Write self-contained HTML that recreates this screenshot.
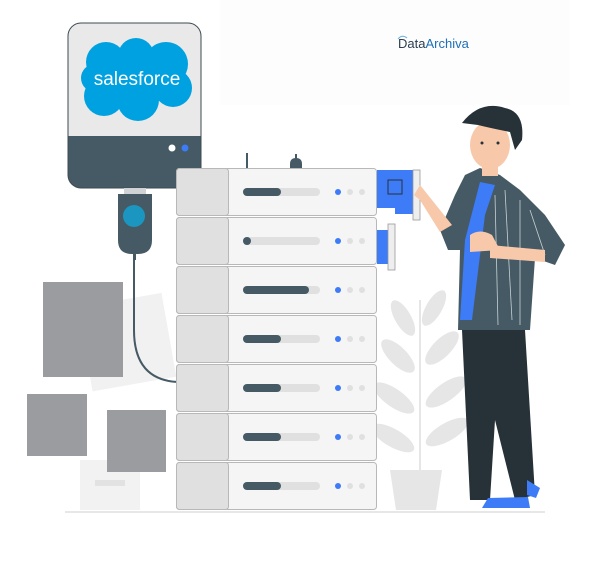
<!DOCTYPE html>
<html><head><meta charset="utf-8"><style>
html,body{margin:0;padding:0;background:#fff;width:610px;height:579px;overflow:hidden}
svg{display:block}
</style></head><body>
<svg width="610" height="579" viewBox="0 0 610 579" xmlns="http://www.w3.org/2000/svg">
<rect x="220" y="0" width="350" height="105" fill="#fdfdfd"/>
<!-- faint background boxes -->
<rect x="85" y="300" width="85" height="85" fill="#f1f1f1" transform="rotate(-10 125 345)"/>
<rect x="80" y="460" width="60" height="50" fill="#f2f2f2"/>
<rect x="95" y="480" width="30" height="6" fill="#e2e2e2"/>
<!-- gray rectangles -->
<rect x="43" y="282" width="80" height="95" fill="#9a9ca0"/>
<rect x="27" y="394" width="60" height="62" fill="#9a9ca0"/>
<rect x="107" y="410" width="59" height="62" fill="#9a9ca0"/>
<!-- plant -->
<g fill="#e6e6e6">
<rect x="419" y="300" width="2" height="170"/>
<ellipse cx="403" cy="318" rx="8" ry="20" transform="rotate(-30 403 318)"/>
<ellipse cx="434" cy="308" rx="8" ry="20" transform="rotate(30 434 308)"/>
<ellipse cx="398" cy="356" rx="9" ry="22" transform="rotate(-45 398 356)"/>
<ellipse cx="442" cy="348" rx="9" ry="22" transform="rotate(45 442 348)"/>
<ellipse cx="394" cy="398" rx="9" ry="24" transform="rotate(-55 394 398)"/>
<ellipse cx="446" cy="392" rx="9" ry="24" transform="rotate(55 446 392)"/>
<ellipse cx="393" cy="438" rx="9" ry="24" transform="rotate(-60 393 438)"/>
<ellipse cx="447" cy="432" rx="9" ry="24" transform="rotate(60 447 432)"/>
<path d="M390 470 L442 470 L436 510 L396 510 Z"/>
</g>
<!-- ground line -->
<line x1="65" y1="512" x2="545" y2="512" stroke="#cfcfcf" stroke-width="1"/>
<!-- cable -->
<path d="M134 255 L134 330 Q134 380 178 382" fill="none" stroke="#455a64" stroke-width="2"/>
<!-- salesforce box -->
<rect x="68" y="23" width="133" height="165" rx="13" fill="#455a64"/>
<path d="M81 23 H188 Q201 23 201 36 V136 H68 V36 Q68 23 81 23 Z" fill="#e9e9e9"/>
<rect x="68" y="23" width="133" height="165" rx="13" fill="none" stroke="#3c4a52" stroke-width="1"/>
<g fill="#00a1e0">
<circle cx="106" cy="62" r="20"/><circle cx="136" cy="56" r="18"/><circle cx="166" cy="64" r="22"/>
<circle cx="173" cy="88" r="19"/><circle cx="138" cy="100" r="21"/><circle cx="104" cy="96" r="20"/>
<circle cx="95" cy="78" r="14"/>
<rect x="95" y="60" width="80" height="40"/>
</g>
<text x="137" y="85" text-anchor="middle" font-family="Liberation Sans, sans-serif" font-size="19" fill="#fff">salesforce</text>
<circle cx="172" cy="148" r="3.5" fill="#fff"/><circle cx="185" cy="148" r="3.5" fill="#3d7bf7"/>
<!-- plug -->
<rect x="124" y="188" width="22" height="6" fill="#cfd3d5"/>
<path d="M118 194 H152 V240 Q152 254 138 254 H132 Q118 254 118 240 Z" fill="#455a64"/>
<circle cx="134" cy="216" r="11" fill="#1a96c0"/>
<rect x="133" y="254" width="3" height="6" fill="#455a64"/>
<!-- antenna/knob -->
<rect x="246" y="153" width="2" height="16" fill="#455a64"/>
<rect x="295" y="154" width="2" height="6" fill="#455a64"/>
<path d="M290 168 V164 Q290 158 296 158 Q302 158 302 164 V168 Z" fill="#455a64"/>
<!-- cards -->
<rect x="377" y="170" width="38" height="38" fill="#3d7bf7"/>
<path d="M395 208 H415 V214 H395 Z" fill="#3d7bf7"/>
<rect x="388" y="180" width="14" height="14" fill="none" stroke="#263238" stroke-width="1"/>
<rect x="413" y="170" width="7" height="50" fill="#eee" stroke="#999" stroke-width="0.8"/>
<rect x="377" y="230" width="15" height="34" fill="#3d7bf7"/>
<rect x="388" y="224" width="7" height="46" fill="#eee" stroke="#999" stroke-width="0.8"/>
<!-- servers -->
<g>
<g transform="translate(0,0)">
<rect x="176.5" y="168.5" width="200" height="47" rx="3" fill="#f5f5f5" stroke="#b8b8b8"/>
<rect x="176.5" y="168.5" width="52" height="47" rx="3" fill="#e0e0e0" stroke="#b8b8b8"/>
<rect x="243" y="188" width="77" height="8" rx="4" fill="#e0e0e0"/><rect x="243" y="188" width="38" height="8" rx="4" fill="#455a64"/>
<circle cx="338" cy="192" r="3" fill="#3d7bf7"/><circle cx="350" cy="192" r="3" fill="#e0e0e0"/><circle cx="362" cy="192" r="3" fill="#e0e0e0"/>
</g>
<g transform="translate(0,49)">
<rect x="176.5" y="168.5" width="200" height="47" rx="3" fill="#f5f5f5" stroke="#b8b8b8"/>
<rect x="176.5" y="168.5" width="52" height="47" rx="3" fill="#e0e0e0" stroke="#b8b8b8"/>
<rect x="243" y="188" width="77" height="8" rx="4" fill="#e0e0e0"/><circle cx="247" cy="192" r="4" fill="#455a64"/>
<circle cx="338" cy="192" r="3" fill="#3d7bf7"/><circle cx="350" cy="192" r="3" fill="#e0e0e0"/><circle cx="362" cy="192" r="3" fill="#e0e0e0"/>
</g>
<g transform="translate(0,98)">
<rect x="176.5" y="168.5" width="200" height="47" rx="3" fill="#f5f5f5" stroke="#b8b8b8"/>
<rect x="176.5" y="168.5" width="52" height="47" rx="3" fill="#e0e0e0" stroke="#b8b8b8"/>
<rect x="243" y="188" width="77" height="8" rx="4" fill="#e0e0e0"/><rect x="243" y="188" width="66" height="8" rx="4" fill="#455a64"/>
<circle cx="338" cy="192" r="3" fill="#3d7bf7"/><circle cx="350" cy="192" r="3" fill="#e0e0e0"/><circle cx="362" cy="192" r="3" fill="#e0e0e0"/>
</g>
<g transform="translate(0,147)">
<rect x="176.5" y="168.5" width="200" height="47" rx="3" fill="#f5f5f5" stroke="#b8b8b8"/>
<rect x="176.5" y="168.5" width="52" height="47" rx="3" fill="#e0e0e0" stroke="#b8b8b8"/>
<rect x="243" y="188" width="77" height="8" rx="4" fill="#e0e0e0"/><rect x="243" y="188" width="38" height="8" rx="4" fill="#455a64"/>
<circle cx="338" cy="192" r="3" fill="#3d7bf7"/><circle cx="350" cy="192" r="3" fill="#e0e0e0"/><circle cx="362" cy="192" r="3" fill="#e0e0e0"/>
</g>
<g transform="translate(0,196)">
<rect x="176.5" y="168.5" width="200" height="47" rx="3" fill="#f5f5f5" stroke="#b8b8b8"/>
<rect x="176.5" y="168.5" width="52" height="47" rx="3" fill="#e0e0e0" stroke="#b8b8b8"/>
<rect x="243" y="188" width="77" height="8" rx="4" fill="#e0e0e0"/><rect x="243" y="188" width="38" height="8" rx="4" fill="#455a64"/>
<circle cx="338" cy="192" r="3" fill="#3d7bf7"/><circle cx="350" cy="192" r="3" fill="#e0e0e0"/><circle cx="362" cy="192" r="3" fill="#e0e0e0"/>
</g>
<g transform="translate(0,245)">
<rect x="176.5" y="168.5" width="200" height="47" rx="3" fill="#f5f5f5" stroke="#b8b8b8"/>
<rect x="176.5" y="168.5" width="52" height="47" rx="3" fill="#e0e0e0" stroke="#b8b8b8"/>
<rect x="243" y="188" width="77" height="8" rx="4" fill="#e0e0e0"/><rect x="243" y="188" width="38" height="8" rx="4" fill="#455a64"/>
<circle cx="338" cy="192" r="3" fill="#3d7bf7"/><circle cx="350" cy="192" r="3" fill="#e0e0e0"/><circle cx="362" cy="192" r="3" fill="#e0e0e0"/>
</g>
<g transform="translate(0,294)">
<rect x="176.5" y="168.5" width="200" height="47" rx="3" fill="#f5f5f5" stroke="#b8b8b8"/>
<rect x="176.5" y="168.5" width="52" height="47" rx="3" fill="#e0e0e0" stroke="#b8b8b8"/>
<rect x="243" y="188" width="77" height="8" rx="4" fill="#e0e0e0"/><rect x="243" y="188" width="38" height="8" rx="4" fill="#455a64"/>
<circle cx="338" cy="192" r="3" fill="#3d7bf7"/><circle cx="350" cy="192" r="3" fill="#e0e0e0"/><circle cx="362" cy="192" r="3" fill="#e0e0e0"/>
</g>
</g>
<!-- person -->
<path d="M462 330 L525 330 L535 495 L515 500 L495 420 L490 500 L470 500 Z" fill="#263238"/>
<path d="M488 498 L528 497 L530 508 L482 508 Z" fill="#3d7bf7"/>
<path d="M527 480 L540 488 L536 498 L527 495 Z" fill="#3d7bf7"/>
<path d="M465 175 L480 168 L500 175 L520 190 L545 215 L565 245 L555 265 L535 258 L530 330 L458 330 L460 250 L448 250 L440 230 L455 195 Z" fill="#455a64"/>
<path d="M480 182 L495 185 L485 215 L472 320 L460 320 L465 240 Z" fill="#3d7bf7"/>
<g stroke="#c9d1d5" stroke-width="0.8" fill="none">
<path d="M505 190 L512 320"/><path d="M520 200 L520 325"/><path d="M495 195 L498 325"/><path d="M530 210 L545 255"/>
</g>
<path d="M470 235 Q480 228 492 235 L500 250 L470 252 Z" fill="#f8c8aa"/>
<path d="M490 245 L545 250 L545 262 L490 258 Z" fill="#f8c8aa"/>
<path d="M440 232 L420 200 L414 195 L420 185 L428 195 L452 225 Z" fill="#f8c8aa"/>
<rect x="482" y="160" width="16" height="16" fill="#f8c8aa"/>
<ellipse cx="490" cy="145" rx="20" ry="24" fill="#f8c8aa"/>
<path d="M462 123 Q480 100 505 108 Q525 112 522 140 L515 150 L510 132 Q490 128 478 125 Z" fill="#263238"/>
<circle cx="482" cy="143" r="1.5" fill="#263238"/><circle cx="498" cy="143" r="1.5" fill="#263238"/>
<!-- logo -->
<text x="398" y="48" font-family="Liberation Sans, sans-serif" font-size="13" fill="#2c3e50">Data<tspan fill="#1e6fb8">Archiva</tspan></text>
<path d="M398 39 Q402 34 407 38" stroke="#6ab0de" stroke-width="1" fill="none"/>
</svg>
</body></html>
